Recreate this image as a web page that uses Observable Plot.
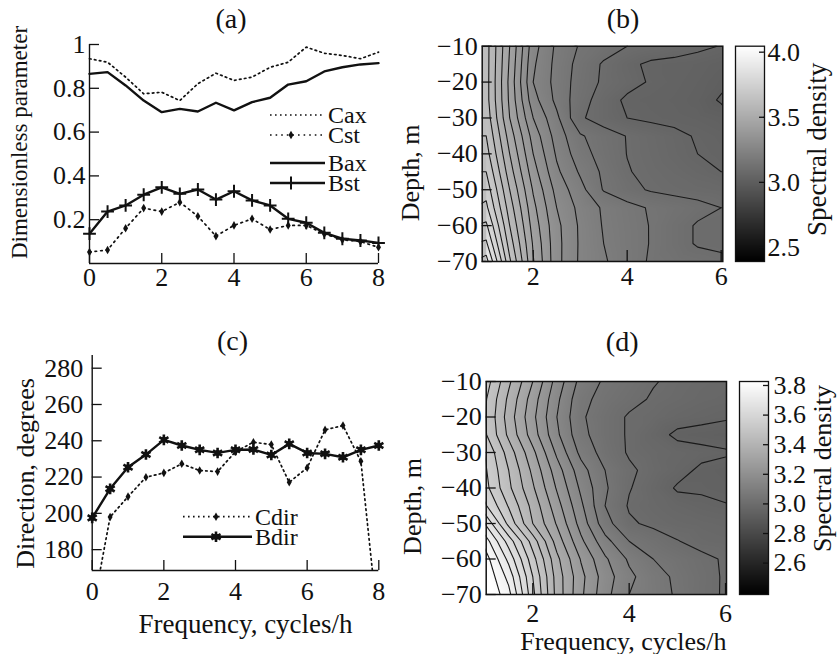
<!DOCTYPE html>
<html><head><meta charset="utf-8">
<script src="https://cdn.jsdelivr.net/npm/d3@7"></script>
<script src="https://cdn.jsdelivr.net/npm/@observablehq/plot@0.6"></script>
<style>
body{margin:0;background:#fff;}
#fig{position:relative;width:838px;height:654px;overflow:hidden;background:#fff;}
#fig svg{position:absolute;}
</style></head>
<body><div id="fig"></div>
<script>
// ---------- data: panel (a) ----------
const freqA = [0,0.5,1,1.5,2,2.5,3,3.5,4,4.5,5,5.5,6,6.5,7,7.5,8];
const Cax = [0.935,0.919,0.851,0.775,0.782,0.744,0.821,0.869,0.836,0.851,0.896,0.919,0.988,0.960,0.950,0.935,0.965];
const Cst = [0.052,0.062,0.161,0.253,0.237,0.280,0.216,0.125,0.174,0.204,0.155,0.174,0.174,0.135,0.108,0.100,0.074];
const Bax = [0.866,0.874,0.813,0.744,0.691,0.706,0.694,0.734,0.699,0.737,0.757,0.817,0.832,0.877,0.896,0.909,0.915];
const Bst = [0.136,0.237,0.265,0.314,0.348,0.318,0.338,0.292,0.330,0.288,0.265,0.204,0.186,0.140,0.113,0.105,0.094];
const xTicksA = [0,2,4,6,8];
const yTicksA = [0.2,0.4,0.6,0.8,1];
// ---------- data: panel (c) ----------
const freqC = [0,0.5,1,1.5,2,2.5,3,3.5,4,4.5,5,5.5,6,6.5,7,7.5,8];
const Cdir = [145,198,209.2,219.9,222.3,227.3,223.6,223,234,239.2,237.9,217.1,225.1,246,248.4,228.7,135];
const Bdir = [197.5,213.5,225.4,232.4,240.5,237.4,235,233.3,235,235.2,232.2,238.3,233.3,232.8,230.9,235,237.4];
const xTicksC = [0,2,4,6,8];
const yTicksC = [180,200,220,240,260,280];
// ---------- data: panels (b) and (d), spectral density grids ----------
const freqGrid = [1,1.5,2,2.5,3,3.5,4,4.5,5,5.5,6];
const depthGrid = [-10,-15,-20,-25,-30,-35,-40,-45,-50,-55,-60,-65,-70];
const densB = [
 [3.62,3.45,3.27,3.19,3.145,3.123,3.10,3.088,3.075,3.06,3.048],
 [3.62,3.443,3.258,3.185,3.133,3.094,3.063,3.04,3.035,3.03,3.02],
 [3.62,3.436,3.25,3.183,3.128,3.092,3.069,3.045,3.035,3.025,3.01],
 [3.62,3.44,3.269,3.187,3.121,3.076,3.04,3.035,3.03,3.02,2.995],
 [3.631,3.45,3.30,3.211,3.107,3.076,3.05,3.04,3.035,3.03,3.02],
 [3.65,3.477,3.33,3.228,3.156,3.124,3.098,3.08,3.063,3.045,3.035],
 [3.671,3.50,3.35,3.243,3.171,3.129,3.099,3.083,3.066,3.05,3.04],
 [3.70,3.523,3.372,3.26,3.193,3.14,3.103,3.088,3.076,3.063,3.05],
 [3.731,3.55,3.395,3.283,3.217,3.146,3.116,3.095,3.085,3.08,3.075],
 [3.762,3.575,3.414,3.30,3.235,3.193,3.167,3.145,3.13,3.115,3.10],
 [3.81,3.60,3.429,3.313,3.242,3.196,3.17,3.148,3.12,3.095,3.09],
 [3.86,3.627,3.444,3.316,3.243,3.20,3.171,3.148,3.12,3.095,3.09],
 [3.922,3.659,3.454,3.316,3.242,3.206,3.172,3.145,3.13,3.12,3.11]
];
const densD = [
 [3.53,3.41,3.30,3.179,3.083,3.042,3.023,3.003,2.99,2.98,2.975],
 [3.51,3.389,3.275,3.161,3.064,3.033,3.013,2.995,2.985,2.975,2.97],
 [3.505,3.377,3.263,3.15,3.057,3.022,2.995,2.985,2.97,2.962,2.955],
 [3.51,3.389,3.275,3.16,3.064,3.022,2.995,2.97,2.94,2.935,2.93],
 [3.55,3.427,3.313,3.19,3.086,3.029,2.995,2.98,2.97,2.962,2.955],
 [3.56,3.45,3.338,3.223,3.12,3.05,3.008,2.985,2.965,2.942,2.935],
 [3.57,3.461,3.357,3.245,3.14,3.057,3.003,2.975,2.945,2.945,2.94],
 [3.61,3.495,3.383,3.27,3.16,3.05,2.995,2.98,2.968,2.958,2.952],
 [3.70,3.535,3.40,3.295,3.18,3.07,3.007,2.99,2.98,2.975,2.97],
 [3.78,3.628,3.477,3.328,3.211,3.117,3.05,3.026,3.002,2.985,2.98],
 [3.83,3.685,3.519,3.363,3.246,3.158,3.092,3.05,3.031,3.011,2.995],
 [3.85,3.733,3.55,3.378,3.265,3.175,3.111,3.071,3.04,3.016,2.995],
 [3.86,3.767,3.564,3.381,3.26,3.167,3.10,3.072,3.044,3.015,2.995]
];
const thrB = [3.00,3.05,3.10,3.15,3.20,3.25,3.30,3.35,3.40,3.45,3.50,3.55,3.60,3.65,3.70,3.75,3.80,3.85,3.90,3.95];
const thrD = [2.95,3.00,3.05,3.10,3.15,3.20,3.25,3.30,3.35,3.40,3.45,3.50,3.55,3.60,3.65,3.70,3.75,3.80];
const xDomB = [0.915,6.035], xDomD = [1.033,6.02], yDomMap = [-70,-10];
const xTicksMap = [2,4,6];
const yTicksMap = [-70,-60,-50,-40,-30,-20,-10];
const cbDomB = [2.392,4.046], cbTicksB = [2.5,3.0,3.5,4.0];
const cbDomD = [2.388,3.827], cbTicksD = [2.6,2.8,3.0,3.2,3.4,3.6,3.8];

// ---------- helpers ----------
const FONT = '"Liberation Serif","Times New Roman",serif';
const INK = "#111";
const fig = document.getElementById("fig");
const baseStyle = {fontFamily: FONT, fontSize: "26px", background: "transparent", overflow: "visible", color: INK};
function place(svg, left, top) { svg.style.left = left + "px"; svg.style.top = top + "px"; fig.appendChild(svg); }
const minus = d => d < 0 ? "\u2212" + Math.abs(d) : String(d);

const tableA = freqA.map((f, i) => ({f, Cax: Cax[i], Cst: Cst[i], Bax: Bax[i], Bst: Bst[i]}));
const tableC = freqC.map((f, i) => ({f, Cdir: Cdir[i], Bdir: Bdir[i]}));
const gridTable = dens => depthGrid.flatMap((d, j) => freqGrid.map((f, i) => ({f, d, v: dens[j][i]})));
// grid bounds so that grid samples sit exactly at freqGrid / depthGrid
const fStep = freqGrid[1] - freqGrid[0], dStep = depthGrid[0] - depthGrid[1];
const gridBounds = {
  width: freqGrid.length, height: depthGrid.length,
  x1: freqGrid[0] - fStep / 2, x2: freqGrid[freqGrid.length - 1] + fStep / 2,
  y1: depthGrid[0] + dStep / 2, y2: depthGrid[depthGrid.length - 1] - dStep / 2
};

// ---------- panel (a) ----------
{
  const W = 400, H = 320, mL = 89, mR = 22, mT = 44, mB = 57;
  const fw = W - mL - mR, fh = H - mT - mB;
  const svg = Plot.plot({
    width: W, height: H, marginLeft: mL, marginRight: mR, marginTop: mT, marginBottom: mB,
    style: baseStyle,
    x: {domain: [0, 8], axis: null}, y: {domain: [0, 1], axis: null},
    marks: [
      Plot.axisX({ticks: xTicksA, tickSize: 0, tickPadding: 4, label: null, tickFormat: d => String(d)}),
      Plot.axisY({ticks: yTicksA, tickSize: 0, tickPadding: 4, label: null, tickFormat: d => d === 1 ? "1" : d.toFixed(1)}),
      Plot.tickX(xTicksA, {x: d => d, insetTop: fh - 10, stroke: INK, strokeWidth: 1.3}),
      Plot.tickY(yTicksA, {y: d => d, insetRight: fw - 10, stroke: INK, strokeWidth: 1.3}),
      Plot.ruleX([0], {stroke: INK, strokeWidth: 1.4}),
      Plot.ruleY([0], {stroke: INK, strokeWidth: 1.4}),
      Plot.line(tableA, {x: "f", y: "Cax", stroke: INK, strokeWidth: 1.7, strokeDasharray: "1.6,3.4"}),
      Plot.line(tableA, {x: "f", y: "Cst", stroke: INK, strokeWidth: 1.7, strokeDasharray: "1.6,4"}),
      Plot.dot(tableA, {x: "f", y: "Cst", symbol: "diamond", r: 2.6, fill: INK}),
      Plot.line(tableA, {x: "f", y: "Bax", stroke: INK, strokeWidth: 2.4}),
      Plot.line(tableA, {x: "f", y: "Bst", stroke: INK, strokeWidth: 2.4}),
      Plot.dot(tableA, {x: "f", y: "Bst", symbol: "plus", r: 4.2, stroke: INK, strokeWidth: 2}),
      Plot.text(["(a)"], {frameAnchor: "top", dx: -3, dy: -17, lineAnchor: "bottom", fontSize: 28}),
      Plot.text(["Dimensionless parameter"], {frameAnchor: "left", textAnchor: "middle", rotate: -90, dx: -70, dy: -11.5, fontSize: 23})
    ]
  });
  place(svg, 0, 0);
}

// ---------- panel (c) ----------
{
  const W = 400, H = 334, mL = 91.7, mR = 21.7, mT = 35, mB = 84;
  const fw = W - mL - mR, fh = H - mT - mB;
  const svg = Plot.plot({
    width: W, height: H, marginLeft: mL, marginRight: mR, marginTop: mT, marginBottom: mB,
    style: baseStyle,
    x: {domain: [0, 8], axis: null}, y: {domain: [168.5, 287], axis: null},
    marks: [
      Plot.axisX({ticks: xTicksC, tickSize: 0, tickPadding: 11, label: null, tickFormat: d => String(d)}),
      Plot.axisY({ticks: yTicksC, tickSize: 0, tickPadding: 9, label: null, tickFormat: d => String(d)}),
      Plot.tickX(xTicksC, {x: d => d, insetTop: fh - 10, stroke: INK, strokeWidth: 1.3}),
      Plot.tickY(yTicksC, {y: d => d, insetRight: fw - 10, stroke: INK, strokeWidth: 1.3}),
      Plot.ruleX([0], {stroke: INK, strokeWidth: 1.4}),
      Plot.ruleY([168.5], {stroke: INK, strokeWidth: 1.4}),
      Plot.line(tableC, {x: "f", y: "Cdir", stroke: INK, strokeWidth: 1.7, strokeDasharray: "1.6,3.4", clip: true}),
      Plot.dot(tableC, {x: "f", y: "Cdir", symbol: "diamond", r: 2.6, fill: INK, clip: true}),
      Plot.line(tableC, {x: "f", y: "Bdir", stroke: INK, strokeWidth: 2.4}),
      Plot.dot(tableC, {x: "f", y: "Bdir", symbol: "asterisk", r: 5, stroke: INK, strokeWidth: 2.6}),
      Plot.dot(tableC, {x: "f", y: "Bdir", r: 3, fill: INK}),
      Plot.text(["(c)"], {frameAnchor: "top", dx: -3, dy: -6, lineAnchor: "bottom", fontSize: 28}),
      Plot.text(["Frequency, cycles/h"], {frameAnchor: "bottom", textAnchor: "middle", dx: 10, dy: 62, lineAnchor: "bottom", fontSize: 27}),
      Plot.text(["Direction, degrees"], {frameAnchor: "left", textAnchor: "middle", rotate: -90, dx: -66.7, dy: 10.5})
    ]
  });
  place(svg, 0, 320);
}

// ---------- contour panels ----------
function mapPanel({left, top, W, H, mL, mR, mT, mB, xDom, dens, thr, cbDom, title, titleDx, titleDy, xPad, yLabDx, yLabDy, xLabel}) {
  const fw = W - mL - mR, fh = H - mT - mB;
  const data = gridTable(dens);
  const marks = [
    Plot.raster(data, {x: "f", y: "d", fill: "v", interpolate: "barycentric"}),
    Plot.contour(dens.flat(), {...gridBounds, thresholds: thr, stroke: "#1a1a1a", strokeWidth: 1.1, fill: "none", clip: true}),
    Plot.frame({stroke: INK, strokeWidth: 1.5}),
    Plot.axisX({ticks: xTicksMap, tickSize: 0, tickPadding: xPad, label: null, tickFormat: d => String(d)}),
    Plot.axisY({ticks: yTicksMap, tickSize: 0, tickPadding: 4.5, label: null, tickFormat: minus}),
    Plot.tickX(xTicksMap, {x: d => d, insetTop: fh - 11, stroke: INK, strokeWidth: 1.3}),
    Plot.tickY(yTicksMap, {y: d => d, insetRight: fw - 10, stroke: INK, strokeWidth: 1.3}),
    Plot.text([title], {frameAnchor: "top", textAnchor: "middle", dx: titleDx, dy: titleDy, lineAnchor: "bottom", fontSize: 28}),
    Plot.text(["Depth, m"], {frameAnchor: "left", textAnchor: "middle", rotate: -90, dx: yLabDx, dy: yLabDy})
  ];
  if (xLabel) marks.push(Plot.text([xLabel.text], {frameAnchor: "bottom", textAnchor: "middle", dx: xLabel.dx, dy: xLabel.dy, lineAnchor: "bottom", fontSize: 26}));
  const svg = Plot.plot({
    width: W, height: H, marginLeft: mL, marginRight: mR, marginTop: mT, marginBottom: mB,
    style: baseStyle,
    x: {domain: xDom, axis: null}, y: {domain: yDomMap, axis: null},
    color: {type: "linear", domain: cbDom, range: ["black", "white"], interpolate: "rgb"},
    marks
  });
  place(svg, left, top);
}
function colorBar({left, top, W, H, mL, mR, mT, mB, cbDom, ticks, labDx, labDy, pad, labSize}) {
  const fw = W - mL - mR;
  const svg = Plot.plot({
    width: W, height: H, marginLeft: mL, marginRight: mR, marginTop: mT, marginBottom: mB,
    style: baseStyle,
    x: {domain: [0, 1], axis: null}, y: {domain: cbDom, axis: null},
    color: {type: "linear", domain: cbDom, range: ["black", "white"], interpolate: "rgb"},
    marks: [
      Plot.raster({fill: (x, y) => y, x1: 0, x2: 1, y1: cbDom[0], y2: cbDom[1]}),
      Plot.frame({stroke: INK, strokeWidth: 1.3}),
      Plot.tickY(ticks, {y: d => d, insetLeft: fw - 5, stroke: INK, strokeWidth: 1.3}),
      Plot.axisY({ticks, anchor: "right", tickSize: 0, tickPadding: pad, label: null, tickFormat: d => d.toFixed(1)}),
      Plot.text(["Spectral density"], {frameAnchor: "right", textAnchor: "middle", rotate: -90, dx: labDx, dy: labDy, fontSize: labSize})
    ]
  });
  place(svg, left, top);
}

mapPanel({left: 400, top: 0, W: 438, H: 320, mL: 81.7, mR: 115.7, mT: 45.7, mB: 59,
  xDom: xDomB, dens: densB, thr: thrB, cbDom: cbDomB, title: "(b)", titleDx: 20.5, titleDy: -18.7,
  xPad: 5, yLabDx: -71.7, yLabDy: 19});
colorBar({left: 700, top: 0, W: 138, H: 320, mL: 35, mR: 74, mT: 45.7, mB: 59, cbDom: cbDomB, ticks: cbTicksB, labDx: 53, labDy: -4.5, pad: 3, labSize: 27});

mapPanel({left: 400, top: 320, W: 438, H: 334, mL: 85.7, mR: 112, mT: 61, mB: 60,
  xDom: xDomD, dens: densD, thr: thrD, cbDom: cbDomD, title: "(d)", titleDx: 15.8, titleDy: -31,
  xPad: 9, yLabDx: -73.7, yLabDy: 18.5, xLabel: {text: "Frequency, cycles/h", dx: 17, dy: 55}});
colorBar({left: 700, top: 320, W: 138, H: 334, mL: 39, mR: 70, mT: 61, mB: 60, cbDom: cbDomD, ticks: cbTicksD, labDx: 54, labDy: -19.5, pad: 5, labSize: 26});

// ---------- legends ----------
const legendA = [
  {label: "Cax", y: 115, dash: "1.6,3.4", w: 1.7, sym: null},
  {label: "Cst", y: 135, dash: "1.6,4", w: 1.7, sym: "diamond"},
  {label: "Bax", y: 163, dash: null, w: 2.4, sym: null},
  {label: "Bst", y: 183, dash: null, w: 2.4, sym: "plus"}
];
const legendC = [
  {label: "Cdir", y: 516.7, dash: "1.6,3.4", w: 1.7, sym: "diamond"},
  {label: "Bdir", y: 536.7, dash: null, w: 2.4, sym: "asterisk"}
];
const leg = d3.create("svg").attr("width", 838).attr("height", 654)
  .style("left", "0px").style("top", "0px").style("pointer-events", "none")
  .style("font-family", FONT).style("font-size", "24px");
function drawLegend(items, x1, x2, symX, textX) {
  for (const it of items) {
    leg.append("line").attr("x1", x1).attr("x2", x2).attr("y1", it.y).attr("y2", it.y)
      .attr("stroke", INK).attr("stroke-width", it.w).attr("stroke-dasharray", it.dash);
    const g = leg.append("g").attr("transform", `translate(${symX},${it.y})`);
    if (it.sym === "diamond") g.append("path").attr("d", d3.symbol(d3.symbolDiamond, Math.PI * 2.6 * 2.6)()).attr("fill", INK);
    if (it.sym === "plus") g.append("path").attr("d", d3.symbol(d3.symbolPlus, Math.PI * 4.2 * 4.2)()).attr("fill", "none").attr("stroke", INK).attr("stroke-width", 2);
    if (it.sym === "asterisk") {
      g.append("path").attr("d", d3.symbol(d3.symbolAsterisk, Math.PI * 5 * 5)()).attr("fill", "none").attr("stroke", INK).attr("stroke-width", 2.6);
      g.append("circle").attr("r", 3).attr("fill", INK);
    }
    leg.append("text").attr("x", textX).attr("y", it.y).attr("dy", "0.34em").attr("fill", INK).text(it.label);
  }
}
drawLegend(legendA, 270, 325, 291, 328);
drawLegend(legendC, 183, 252, 216, 255);
fig.appendChild(leg.node());
</script>
</body></html>
